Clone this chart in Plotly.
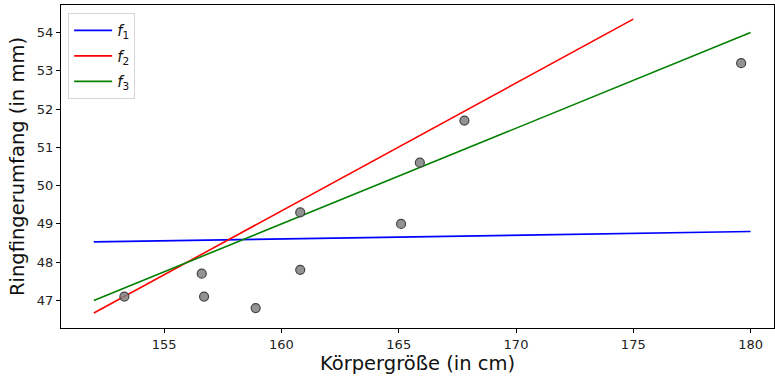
import plotly.graph_objects as go

# Measurements: body height (cm) and ring finger circumference (mm)
height_cm = [153.3, 156.6, 156.7, 158.9, 160.8, 160.8, 165.1, 165.9, 167.8, 179.6]
ring_mm = [47.1, 47.7, 47.1, 46.8, 49.3, 47.8, 49.0, 50.6, 51.7, 53.2]

# Candidate model lines (endpoints)
f1_x = [152, 180]
f1_y = [48.53, 48.80]
f2_x = [152, 175]
f2_y = [46.67, 54.35]
f3_x = [152, 180]
f3_y = [47.0, 54.0]

x_ticks = [155, 160, 165, 170, 175, 180]
y_ticks = [47, 48, 49, 50, 51, 52, 53, 54]

FONT = "DejaVu Sans"

fig = go.Figure()
fig.add_trace(go.Scatter(x=f1_x, y=f1_y, mode="lines", name="<i>f</i><sub>1</sub>",
                         legendgroup="g1", line=dict(color="blue", width=1.6)))
fig.add_trace(go.Scatter(x=f2_x, y=f2_y, mode="lines", name="<i>f</i><sub>2</sub>",
                         legendgroup="g2", line=dict(color="red", width=1.6)))
fig.add_trace(go.Scatter(x=f3_x, y=f3_y, mode="lines", name="<i>f</i><sub>3</sub>",
                         legendgroup="g3", line=dict(color="green", width=1.6)))
fig.add_trace(go.Scatter(x=height_cm, y=ring_mm, mode="markers", showlegend=False,
                         marker=dict(size=9, color="rgba(128,128,128,0.85)",
                                     line=dict(color="#444444", width=1.2))))

axis_common = dict(
    showgrid=False, zeroline=False, showline=True, mirror=True,
    linecolor="black", linewidth=1, ticks="outside", ticklen=4,
    tickcolor="black", tickfont=dict(family=FONT, size=13, color="#222222"),
)

fig.update_layout(
    width=775, height=379,
    margin=dict(l=61, r=1, t=5, b=51),
    paper_bgcolor="white", plot_bgcolor="white",
    font=dict(family=FONT),
    xaxis=dict(range=[150.6, 181.0], tickvals=x_ticks,
               title=dict(text="Körpergröße (in cm)", font=dict(family=FONT, size=19.5, color="#111111"),
                          standoff=5),
               **axis_common),
    yaxis=dict(range=[46.28, 54.72], tickvals=y_ticks,
               title=dict(text="Ringfingerumfang (in mm)", font=dict(family=FONT, size=19.5, color="#111111"),
                          standoff=7),
               **axis_common),
    legend=dict(x=0.01, y=0.975, xanchor="left", yanchor="top",
                bgcolor="rgba(255,255,255,0.8)", bordercolor="#d6d6d6", borderwidth=1,
                font=dict(family=FONT, size=15, color="#111111"),
                traceorder="grouped", tracegroupgap=3, itemwidth=38),
    showlegend=True,
)

fig.write_html("out.html")
